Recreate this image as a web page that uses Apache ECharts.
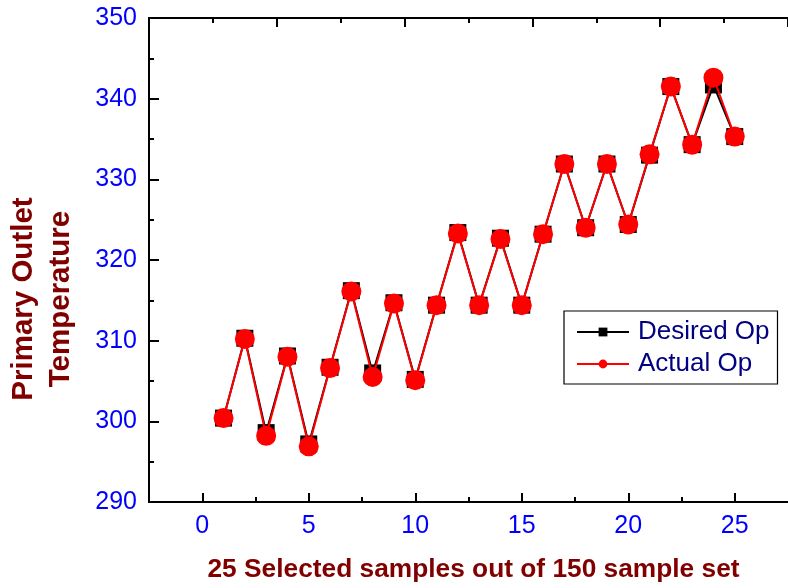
<!DOCTYPE html>
<html>
<head>
<meta charset="utf-8">
<script src="https://cdn.jsdelivr.net/npm/echarts@6/dist/echarts.min.js"></script>
<style>
  html, body { margin: 0; padding: 0; background: #fff; }
  #chart { width: 788px; height: 588px; }
</style>
</head>
<body>
<div id="chart"></div>
<script>
// Sample index (1..25) and outlet temperatures
const sampleIndex = [1, 2, 3, 4, 5, 6, 7, 8, 9, 10, 11, 12, 13, 14, 15, 16, 17, 18, 19, 20, 21, 22, 23, 24, 25];
const desiredOp = [300.4, 310.3, 298.6, 308.1, 297.2, 306.7, 316.2, 306.0, 314.7, 305.2, 314.4, 323.4, 314.4,
                   322.7, 314.4, 323.2, 331.9, 324.0, 331.9, 324.4, 333.0, 341.5, 334.3, 341.7, 335.3];
const actualOp  = [300.4, 310.2, 298.2, 308.0, 296.9, 306.6, 316.1, 305.5, 314.6, 305.1, 314.4, 323.3, 314.4,
                   322.6, 314.4, 323.2, 331.9, 324.0, 331.9, 324.4, 333.1, 341.5, 334.3, 342.6, 335.3];

// Axis ticks
const xTickValues = [0, 5, 10, 15, 20, 25];
const xMinorTickValues = [2.5, 7.5, 12.5, 17.5, 22.5];
const yTickValues = [290, 300, 310, 320, 330, 340, 350];

const seriesNames = ['Desired Op', 'Actual Op'];
const xTitle = '25 Selected samples out of 150 sample set';
const yTitle = 'Primary Outlet\nTemperature';

const FONT = '"Liberation Sans", Arial, sans-serif';
const TITLE_COLOR = '#800000';
const LABEL_COLOR = '#0000ff';

const pair = (xs, ys) => xs.map((x, i) => [x, ys[i]]);

const chart = echarts.init(document.getElementById('chart'), null, { renderer: 'canvas' });

const tickStyle = { color: '#000', width: 2 };

chart.setOption({
  animation: false,
  backgroundColor: '#fff',
  grid: { left: 149, top: 18, width: 648, height: 484, containLabel: false },
  xAxis: [
    {
      type: 'value', position: 'bottom', min: -2.5, max: 27.5,
      axisLine: { show: true, onZero: false, lineStyle: { color: '#000', width: 2 } },
      axisTick: { show: true, inside: true, length: 9, lineStyle: tickStyle, customValues: xTickValues },
      axisLabel: { show: true, customValues: xTickValues, margin: 12, color: LABEL_COLOR,
                   fontSize: 25, fontFamily: FONT },
      splitLine: { show: false },
      name: xTitle, nameLocation: 'middle', nameGap: 55,
      nameTextStyle: { color: TITLE_COLOR, fontSize: 26.3, fontWeight: 'bold', fontFamily: FONT,
                       padding: [0, 0, 0, 10] }
    },
    {
      // minor ticks on the bottom edge
      type: 'value', position: 'bottom', min: -2.5, max: 27.5,
      axisLine: { show: false, onZero: false },
      axisTick: { show: true, inside: true, length: 5, lineStyle: tickStyle, customValues: xMinorTickValues },
      axisLabel: { show: false },
      splitLine: { show: false }
    },
    {
      // top frame
      type: 'value', position: 'top', min: 0, max: 5, interval: 1,
      axisLine: { show: true, onZero: false, lineStyle: { color: '#000', width: 2 } },
      axisTick: { show: true, inside: true, length: 9, lineStyle: tickStyle },
      minorTick: { show: true, splitNumber: 2, length: 5, lineStyle: tickStyle },
      axisLabel: { show: false },
      splitLine: { show: false }
    }
  ],
  yAxis: {
    type: 'value', min: yTickValues[0], max: yTickValues[yTickValues.length - 1], interval: 10,
    axisLine: { show: true, onZero: false, lineStyle: { color: '#000', width: 2 } },
    axisTick: { show: true, inside: true, length: 10, lineStyle: tickStyle },
    minorTick: { show: true, splitNumber: 2, length: 5, lineStyle: tickStyle },
    axisLabel: { margin: 12, color: LABEL_COLOR, fontSize: 25, fontFamily: FONT },
    splitLine: { show: false }
  },
  graphic: [
    {
      type: 'text', x: 42, y: 299, rotation: Math.PI / 2,
      style: {
        text: yTitle, x: 0, y: 0, align: 'center', verticalAlign: 'middle',
        fill: TITLE_COLOR, font: 'bold 29.5px ' + FONT, lineHeight: 37
      }
    }
  ],
  legend: {
    orient: 'vertical', left: 564, top: 311,
    selectedMode: false,
    backgroundColor: '#fff', borderColor: '#000', borderWidth: 1.2, borderRadius: 0,
    padding: [8, 8, 7, 12], itemGap: 6,
    itemWidth: 52, itemHeight: 11,
    textStyle: { color: '#000080', fontSize: 26, fontFamily: FONT, padding: [0, 0, 0, 4] },
    data: seriesNames
  },
  series: [
    {
      name: seriesNames[0], type: 'line', xAxisIndex: 0,
      data: pair(sampleIndex, desiredOp),
      symbol: 'rect', symbolSize: 17,
      lineStyle: { color: '#000', width: 2 },
      itemStyle: { color: '#000' },
      z: 2
    },
    {
      name: seriesNames[1], type: 'line', xAxisIndex: 0,
      data: pair(sampleIndex, actualOp),
      symbol: 'circle', symbolSize: 20,
      lineStyle: { color: '#ff0000', width: 2 },
      itemStyle: { color: '#ff0000' },
      z: 3
    }
  ]
});
</script>
</body>
</html>
